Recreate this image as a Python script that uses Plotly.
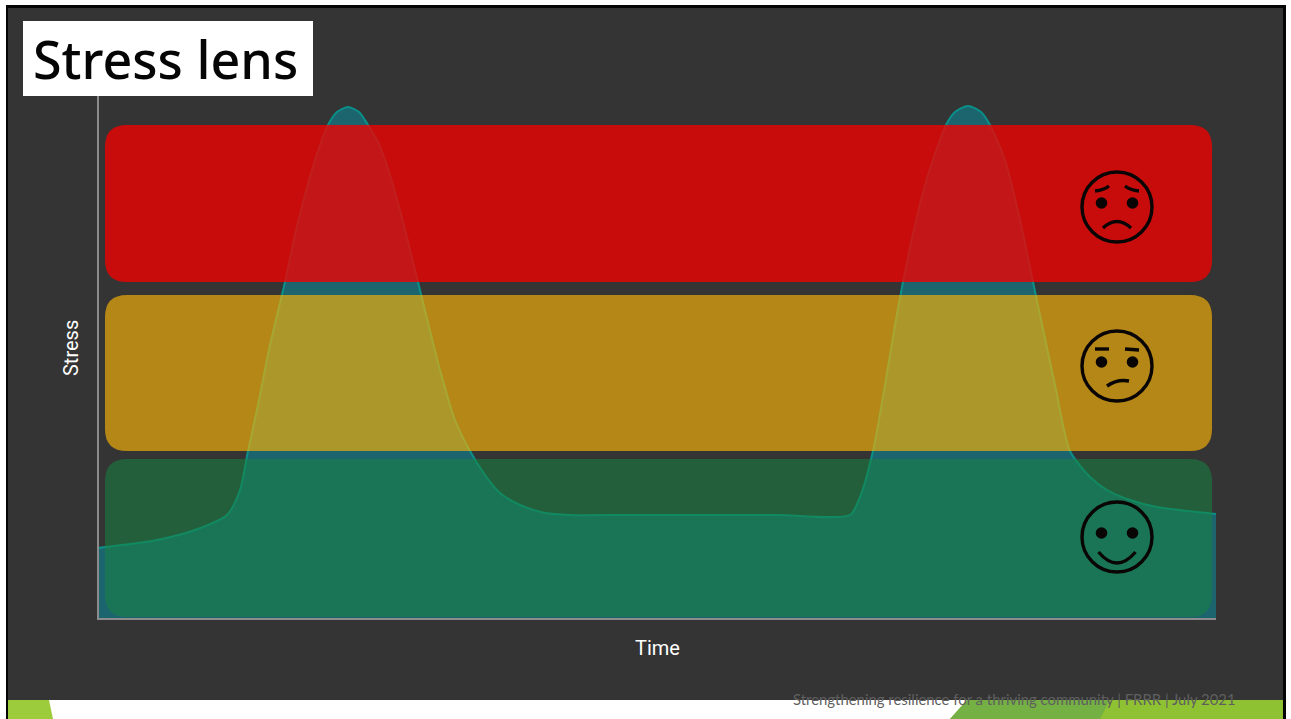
import plotly.graph_objects as go

# Stress level through time
time_pts = [0, 59, 97, 129, 142, 150, 160, 172, 187, 197, 207, 217, 230, 239, 250, 261, 270, 280, 290, 302, 320, 342,
            357, 372, 387, 402, 422, 447, 472, 530, 602, 680, 752, 762, 775, 787, 797, 805, 817, 827, 835, 848, 857,
            870, 883, 892, 907, 922, 935, 942, 957, 972, 992, 1009, 1032, 1059, 1118]
stress_pts = [70, 78, 88, 103, 128, 167, 213, 273, 336, 383, 423, 458, 493, 506, 511, 506, 493, 476, 449, 408, 336, 248,
              198, 167, 143, 125, 113, 105, 103, 103, 103, 103, 103, 121, 167, 233, 293, 336, 393, 433, 458, 493, 506,
              512, 506, 493, 458, 398, 336, 303, 233, 167, 141, 128, 118, 111, 104]

# Background zones: name, lower bound, upper bound, fill
zone_left, zone_right, zone_radius = 7, 1114, 22
zones = [
    ("high", 336, 493, "rgba(237,2,2,0.80)"),
    ("medium", 167, 323, "rgba(250,180,6,0.65)"),
    ("low", 1, 159, "rgba(23,132,66,0.55)"),
]

# Face markers: centre height and expression per zone
face_x = 1019
face_radius = 35
faces = [
    (411, "worried"),
    (252, "uneasy"),
    (81, "happy"),
]

title_text = "Stress lens"
footer_text = "Strengthening resilience for a thriving community | FRRR | July 2021"
x_title = "Time"
y_title = "Stress"


def px(x):
    # Horizontal page pixel to paper fraction
    return (x - 99) / 1117


def py(y):
    # Vertical page pixel to paper fraction
    return (618 - y) / 522


def page_rect(x0, x1, y0, y1, fill, layer="below"):
    return dict(type="rect", xref="paper", yref="paper", x0=px(x0), x1=px(x1), y0=py(y1), y1=py(y0),
                fillcolor=fill, line_width=0, layer=layer)


def page_poly(points, fill):
    d = "M" + " L".join(f"{px(x)},{py(y)}" for x, y in points) + " Z"
    return dict(type="path", xref="paper", yref="paper", path=d, fillcolor=fill, line_width=0, layer="below")


def rounded_box(x0, x1, y0, y1, r, fill):
    # Rounded rectangle expressed in axis units
    path = (f"M{x0 + r},{y0} L{x1 - r},{y0} Q{x1},{y0} {x1},{y0 + r} L{x1},{y1 - r} Q{x1},{y1} {x1 - r},{y1} "
            f"L{x0 + r},{y1} Q{x0},{y1} {x0},{y1 - r} L{x0},{y0 + r} Q{x0},{y0} {x0 + r},{y0} Z")
    return dict(type="path", xref="x", yref="y", path=path, fillcolor=fill, line_width=0, layer="above")


def face_shapes(cy, mood):
    cx = face_x
    ink = dict(color="#0a0505", width=3.4)
    out = [dict(type="circle", xref="x", yref="y", x0=cx - face_radius, x1=cx + face_radius,
                y0=cy - face_radius, y1=cy + face_radius, line=ink, layer="above")]
    for dx in (-15.5, 15.5):
        out.append(dict(type="circle", xref="x", yref="y", x0=cx + dx - 5.8, x1=cx + dx + 5.8,
                        y0=cy - 1.8, y1=cy + 9.8, fillcolor="#0a0505", line_width=0, layer="above"))
    if mood == "worried":
        brows = [f"M{cx - 22},{cy + 16} Q{cx - 13},{cy + 17} {cx - 8},{cy + 21}",
                 f"M{cx + 22},{cy + 16} Q{cx + 13},{cy + 17} {cx + 8},{cy + 21}"]
        mouth = f"M{cx - 14},{cy - 21} Q{cx},{cy - 8} {cx + 14},{cy - 21}"
    elif mood == "uneasy":
        brows = [f"M{cx - 22},{cy + 17} L{cx - 8},{cy + 17}", f"M{cx + 8},{cy + 17} L{cx + 22},{cy + 16}"]
        mouth = f"M{cx - 10},{cy - 20} Q{cx},{cy - 13} {cx + 12},{cy - 15}"
    else:
        brows = []
        mouth = f"M{cx - 18.5},{cy - 15} Q{cx},{cy - 37} {cx + 18.5},{cy - 15}"
    for p in brows + [mouth]:
        out.append(dict(type="path", xref="x", yref="y", path=p, line=ink, layer="above"))
    return out


fig = go.Figure(go.Scatter(
    x=time_pts, y=stress_pts, mode="lines", fill="tozeroy",
    line=dict(color="#0a9088", width=2, shape="spline", smoothing=0.7),
    fillcolor="rgb(28,100,110)", hoverinfo="skip",
))

shapes = [
    # Slide frame, backdrop and footer strip
    page_rect(6, 1286, 5, 719, "#050505"),
    page_rect(8, 1283, 8, 700, "#343434"),
    page_rect(8, 1283, 700, 719, "#ffffff"),
    page_poly([(8, 700), (49, 700), (53, 719), (8, 719)], "#9ccb3c"),
    page_poly([(967, 700), (1283, 700), (1283, 719), (950, 719)], "#8fc232"),
    page_poly([(967, 700), (1110, 700), (1100, 719), (950, 719)], "#74b043"),
]
shapes += [rounded_box(zone_left, zone_right, lo, hi, zone_radius, c) for _, lo, hi, c in zones]
for cy, mood in faces:
    shapes += face_shapes(cy, mood)
# Title plate
shapes.append(page_rect(23, 313, 21, 96, "#ffffff", layer="above"))

fig.update_layout(
    width=1291, height=719, autosize=False,
    margin=dict(l=99, r=75, t=96, b=101),
    paper_bgcolor="#ffffff", plot_bgcolor="rgba(0,0,0,0)",
    showlegend=False, shapes=shapes,
    font=dict(family="Roboto"),
    xaxis=dict(range=[1, 1118], showgrid=False, zeroline=False, ticks="", showticklabels=False,
               showline=True, linecolor="#8c8c8c", linewidth=2,
               title=dict(text=x_title, font=dict(size=20, color="#ffffff"), standoff=22)),
    yaxis=dict(range=[0, 522], showgrid=False, zeroline=False, ticks="", showticklabels=False,
               showline=True, linecolor="#8c8c8c", linewidth=2),
    annotations=[
        dict(text=y_title, xref="paper", yref="paper", x=px(71), y=py(348), textangle=-90,
             xanchor="center", yanchor="middle", showarrow=False,
             font=dict(size=20, color="#ffffff")),
        dict(text=title_text, xref="paper", yref="paper", x=px(165.5), y=py(58),
             xanchor="center", yanchor="middle", showarrow=False,
             font=dict(family="Noto Sans", size=52, color="#050505", weight=500)),
        dict(text=footer_text, xref="paper", yref="paper", x=px(1238), y=py(699),
             xanchor="right", yanchor="middle", showarrow=False,
             font=dict(family="Lato", size=14.9, color="#5f5f5f")),
    ],
)

fig.write_html("out.html")
